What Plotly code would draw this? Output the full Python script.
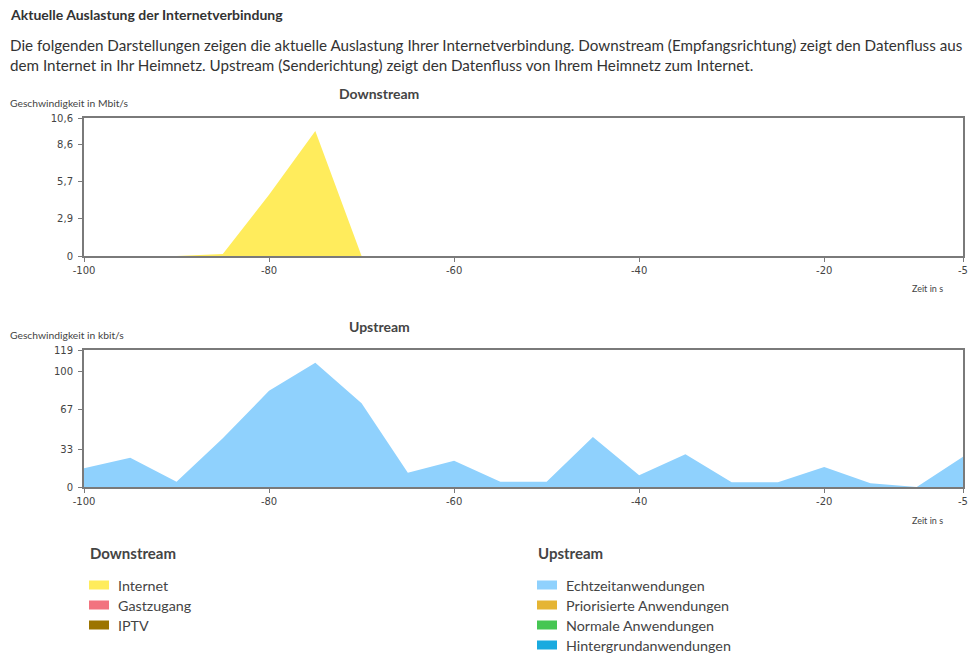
import plotly.graph_objects as go

# ---- data ----
time_s = [-100, -95, -90, -85, -80, -75, -70, -65, -60, -55, -50, -45, -40, -35, -30, -25, -20, -15, -10, -5]
down_internet = [0, 0, 0, 0.15, 4.7, 9.6, 0, 0, 0, 0, 0, 0, 0, 0, 0, 0, 0, 0, 0, 0]
up_echtzeit = [16.2, 25.5, 4.6, 42.3, 83.6, 108, 72.7, 12.4, 22.9, 4.6, 4.6, 43.4, 10.2, 28.4, 4.1, 4.1, 17.4, 3.2, 0, 26.3]

down_ticks = [0, 2.9, 5.7, 8.6, 10.6]
up_ticks = [0, 33, 67, 100, 119]
x_ticks = [-100, -80, -60, -40, -20, -5]

down_legend = ["Internet", "Gastzugang", "IPTV"]
down_colors = ["#FFEC5C", "#F2737F", "#9C7400"]
up_legend = ["Echtzeitanwendungen", "Priorisierte Anwendungen", "Normale Anwendungen", "Hintergrundanwendungen"]
up_colors = ["#8FD1FD", "#E5B534", "#46C653", "#1AAADF"]

W, H = 977, 664
def px(x):
    return x / W
def py(y):
    return 1 - y / H

FONT = "Lato"
TICKFONT = dict(family="DejaVu Sans", size=10, color="#444")
AXCOL = "#7a7a7a"

fig = go.Figure()
fig.add_trace(go.Scatter(x=time_s, y=down_internet, mode="lines", line=dict(width=0, color=down_colors[0]),
                         fill="tozeroy", fillcolor=down_colors[0], xaxis="x", yaxis="y", hoverinfo="skip", showlegend=False))
fig.add_trace(go.Scatter(x=time_s, y=up_echtzeit, mode="lines", line=dict(width=0, color=up_colors[0]),
                         fill="tozeroy", fillcolor=up_colors[0], xaxis="x2", yaxis="y2", hoverinfo="skip", showlegend=False))

xdom = [px(84), px(963)]
common_x = dict(range=[-100, -5], tickvals=x_ticks, ticktext=[str(v) for v in x_ticks], showgrid=False, zeroline=False,
                showline=True, linecolor=AXCOL, linewidth=2, mirror=True, ticks="outside", ticklen=4, tickwidth=1,
                tickcolor=AXCOL, tickfont=TICKFONT, domain=xdom, automargin=False)

def fmt(v):
    s = ("%g" % v).replace(".", ",")
    return s

fig.update_layout(
    width=W, height=H, margin=dict(l=0, r=0, t=0, b=0, pad=0, autoexpand=False),
    paper_bgcolor="white", plot_bgcolor="white", showlegend=False,
    xaxis=dict(common_x, anchor="y"),
    yaxis=dict(range=[0, 10.6], tickvals=down_ticks, ticktext=[fmt(v) for v in down_ticks], domain=[py(256), py(118)],
               showgrid=False, zeroline=False, showline=True, linecolor=AXCOL, linewidth=2, mirror=True,
               ticks="outside", ticklen=4, tickcolor=AXCOL, tickfont=TICKFONT, anchor="x", automargin=False,
               ticklabelstandoff=3),
    xaxis2=dict(common_x, anchor="y2"),
    yaxis2=dict(range=[0, 119], tickvals=up_ticks, ticktext=[fmt(v) for v in up_ticks], domain=[py(487), py(350)],
                showgrid=False, zeroline=False, showline=True, linecolor=AXCOL, linewidth=2, mirror=True,
                ticks="outside", ticklen=4, tickcolor=AXCOL, tickfont=TICKFONT, anchor="x2", automargin=False,
                ticklabelstandoff=3),
)

ann = []
def text(x, y, s, size, color="#333", bold=False, xanchor="left", family=FONT):
    ann.append(dict(x=px(x), y=py(y), xref="paper", yref="paper", text=("<b>%s</b>" % s) if bold else s,
                    showarrow=False, xanchor=xanchor, yanchor="middle", borderpad=0,
                    font=dict(family=family, size=size, color=color)))

text(9, 15, "Aktuelle Auslastung der Internetverbindung", 14, "#333", bold=True)
text(9, 45, "Die folgenden Darstellungen zeigen die aktuelle Auslastung Ihrer Internetverbindung. Downstream (Empfangsrichtung) zeigt den Datenfluss aus", 15.2, "#333")
text(9, 65, "dem Internet in Ihr Heimnetz. Upstream (Senderichtung) zeigt den Datenfluss von Ihrem Heimnetz zum Internet.", 15.2, "#333")
text(379, 94, "Downstream", 14, "#444", bold=True, xanchor="center")
text(379, 326, "Upstream", 14, "#444", bold=True, xanchor="center")
text(9, 103, "Geschwindigkeit in Mbit/s", 10.3, "#444")
text(9, 335, "Geschwindigkeit in kbit/s", 10.3, "#444")
text(927, 288, "Zeit in s", 9, "#444", xanchor="center")
text(927, 520, "Zeit in s", 9, "#444", xanchor="center")

shapes = []
text(89, 553, "Downstream", 15, "#444", bold=True)
for i, (lab, col) in enumerate(zip(down_legend, down_colors)):
    yc = 585 + 20 * i
    shapes.append(dict(type="rect", xref="paper", yref="paper", x0=px(89), x1=px(109), y0=py(yc + 4.5), y1=py(yc - 4.5),
                       fillcolor=col, line=dict(width=0)))
    text(117, yc, lab, 14.3, "#444")
text(537, 553, "Upstream", 15, "#444", bold=True)
for i, (lab, col) in enumerate(zip(up_legend, up_colors)):
    yc = 585 + 20 * i
    shapes.append(dict(type="rect", xref="paper", yref="paper", x0=px(537), x1=px(557), y0=py(yc + 4.5), y1=py(yc - 4.5),
                       fillcolor=col, line=dict(width=0)))
    text(565, yc, lab, 14.3, "#444")

fig.update_layout(annotations=ann, shapes=shapes)
fig.write_html("out.html")
